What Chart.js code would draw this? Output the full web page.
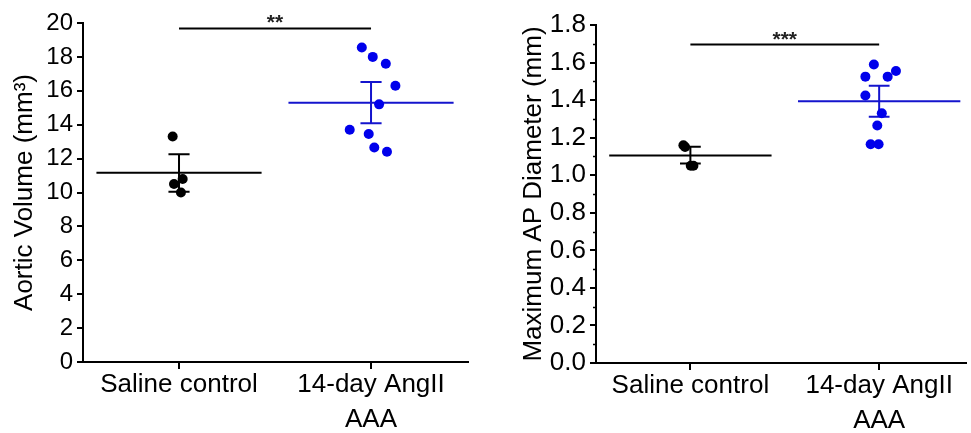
<!DOCTYPE html>
<html>
<head>
<meta charset="utf-8">
<script src="https://cdn.jsdelivr.net/npm/chart.js@4"></script>
<style>
  html, body { margin: 0; padding: 0; background: #fff; }
  .wrap { position: absolute; top: 0; height: 433px; }
  #left { left: 0; width: 485px; }
  #right { left: 490px; width: 481px; }
</style>
</head>
<body>
<div class="wrap" id="left"><canvas id="volChart"></canvas></div>
<div class="wrap" id="right"><canvas id="diamChart"></canvas></div>
<script>
// categories
const categories = ['Saline control', ['14-day AngII', 'AAA']]

// aortic volume (mm3), individual animals + horizontal jitter (category units)
const volSaline = [13.3, 10.8, 10.5, 10.0]
const volSalineJitter = [-0.033, 0.019, -0.026, 0.010]
const volAngII = [18.55, 18.0, 17.6, 16.3, 15.2, 13.7, 13.45, 12.65, 12.4]
const volAngIIJitter = [-0.048, 0.009, 0.077, 0.127, 0.042, -0.111, -0.012, 0.017, 0.083]
const volMean = [11.17, 15.3]
const volErrHi = [12.25, 16.52]
const volErrLo = [10.05, 14.08]
const volSig = 19.68

// maximum AP diameter (mm)
const diamSaline = [1.16, 1.15, 1.05, 1.05]
const diamSalineJitter = [-0.037, -0.028, 0.016, 0.002]
const diamAngII = [1.59, 1.525, 1.525, 1.555, 1.425, 1.33, 1.265, 1.165, 1.165]
const diamAngIIJitter = [-0.028, -0.073, 0.045, 0.089, -0.073, 0.014, -0.010, -0.045, -0.003]
const diamMean = [1.105, 1.394]
const diamErrHi = [1.151, 1.476]
const diamErrLo = [1.062, 1.311]
const diamSig = 1.696

const black = '#000000'
const blue = 'rgb(0,0,235)'
const blueLine = 'rgb(20,20,205)'
const FONT = "'Liberation Sans', Arial, sans-serif"

Chart.defaults.font.family = FONT
Chart.defaults.color = '#000'

function pts(vals, jit, cat) {
  return vals.map((v, i) => ({ x: cat + jit[i], y: v }))
}

// mean line, error bars, significance bar, minor ticks
const summaryPlugin = {
  id: 'summary',
  beforeDatasetsDraw(chart, args, o) {
    const { ctx, scales: { x, y } } = chart
    ctx.save()
    ctx.lineWidth = 2
    o.mean.forEach((m, i) => {
      ctx.strokeStyle = o.colors[i]
      const ym = y.getPixelForValue(m)
      const yh = y.getPixelForValue(o.hi[i])
      const yl = y.getPixelForValue(o.lo[i])
      const xc = x.getPixelForValue(i)
      ctx.beginPath()
      ctx.moveTo(x.getPixelForValue(i - 0.43), ym)
      ctx.lineTo(x.getPixelForValue(i + 0.43), ym)
      ctx.moveTo(xc, yh)
      ctx.lineTo(xc, yl)
      ctx.moveTo(x.getPixelForValue(i - 0.055), yh)
      ctx.lineTo(x.getPixelForValue(i + 0.055), yh)
      ctx.moveTo(x.getPixelForValue(i - 0.055), yl)
      ctx.lineTo(x.getPixelForValue(i + 0.055), yl)
      ctx.stroke()
    })
    ctx.restore()
  },
  afterDraw(chart, args, o) {
    const { ctx, scales: { x, y } } = chart
    ctx.save()
    // significance bar
    const ys = y.getPixelForValue(o.sig)
    ctx.strokeStyle = black
    ctx.lineWidth = 2
    ctx.beginPath()
    ctx.moveTo(x.getPixelForValue(0), ys)
    ctx.lineTo(x.getPixelForValue(1), ys)
    ctx.stroke()
    ctx.fillStyle = '#222'
    ctx.font = 'bold 21px ' + FONT
    ctx.textAlign = 'center'
    ctx.textBaseline = 'alphabetic'
    ctx.fillText(o.stars, x.getPixelForValue(0.5), ys + 1)
    // minor ticks
    if (o.minor) {
      ctx.lineWidth = 1.5
      ctx.beginPath()
      for (let v = o.minor / 2; v < y.max; v += o.minor) {
        const py = Math.round(y.getPixelForValue(v)) + 0.5
        ctx.moveTo(y.right - 3, py)
        ctx.lineTo(y.right, py)
      }
      ctx.stroke()
    }
    ctx.restore()
  }
}

function makeChart(id, cfg) {
  return new Chart(document.getElementById(id), {
    type: 'scatter',
    data: {
      datasets: [
        { data: pts(cfg.saline, cfg.salineJit, 0), backgroundColor: black, pointRadius: 5, borderWidth: 0 },
        { data: pts(cfg.angII, cfg.angIIJit, 1), backgroundColor: blue, pointRadius: 5, borderWidth: 0 },
      ],
    },
    options: {
      responsive: true,
      maintainAspectRatio: false,
      animation: false,
      layout: { padding: { top: cfg.top, right: cfg.padRight, bottom: 0, left: 0 } },
      plugins: {
        legend: { display: false },
        tooltip: { enabled: false },
        summary: {
          mean: cfg.mean, hi: cfg.hi, lo: cfg.lo, colors: [black, blueLine],
          sig: cfg.sig, stars: cfg.stars, minor: cfg.minor,
        },
      },
      scales: {
        x: {
          type: 'linear',
          min: -0.5,
          max: cfg.xMax,
          afterBuildTicks: s => { s.ticks = [{ value: 0 }, { value: 1 }] },
          afterFit: s => { s.height = cfg.xHeight },
          ticks: {
            callback: v => categories[v],
            font: { size: 26, lineHeight: 1.35 },
            padding: -2,
            maxRotation: 0,
            autoSkip: false,
          },
          grid: { drawOnChartArea: false, tickLength: 7, lineWidth: 2, color: black },
          border: { width: 2, color: black },
        },
        y: {
          min: 0,
          max: cfg.yMax,
          afterFit: s => { s.width = cfg.yWidth },
          ticks: {
            stepSize: cfg.step,
            callback: cfg.fmt,
            font: { size: cfg.tickSize },
            padding: 4,
          },
          grid: { drawOnChartArea: false, tickLength: 6, lineWidth: 2, color: black },
          border: { width: 2, color: black },
          title: {
            display: true,
            text: cfg.title,
            font: { size: 26 },
            padding: { top: cfg.titlePad, bottom: 0 },
          },
        },
      },
    },
    plugins: [summaryPlugin],
  })
}

makeChart('volChart', {
  saline: volSaline, salineJit: volSalineJitter,
  angII: volAngII, angIIJit: volAngIIJitter,
  mean: volMean, hi: volErrHi, lo: volErrLo,
  sig: volSig, stars: '**',
  yMax: 20, step: 2, fmt: v => v, tickSize: 24,
  title: 'Aortic Volume (mm³)', titlePad: 9,
  yWidth: 83, xHeight: 71, top: 23, padRight: 17, xMax: 1.505,
})

makeChart('diamChart', {
  saline: diamSaline, salineJit: diamSalineJitter,
  angII: diamAngII, angIIJit: diamAngIIJitter,
  mean: diamMean, hi: diamErrHi, lo: diamErrLo,
  sig: diamSig, stars: '***', minor: 0.2,
  yMax: 1.8, step: 0.2, fmt: v => v.toFixed(1), tickSize: 26,
  title: 'Maximum AP Diameter (mm)', titlePad: 28,
  yWidth: 106, xHeight: 70, top: 25, padRight: 1, xMax: 1.46,
})
</script>
</body>
</html>
